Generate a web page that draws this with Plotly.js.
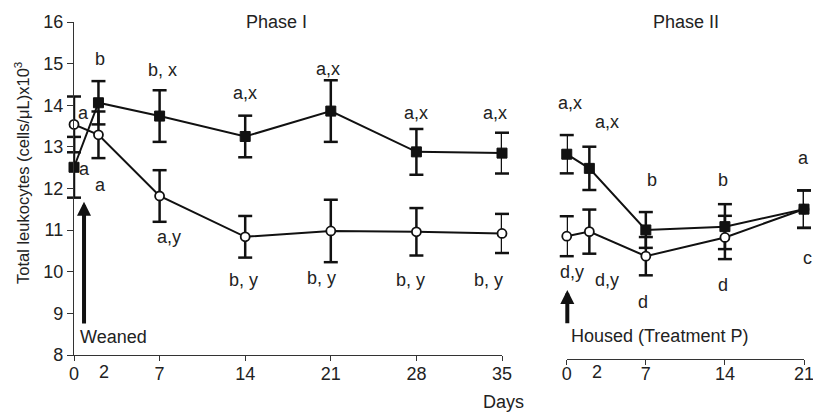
<!DOCTYPE html>
<html>
<head>
<meta charset="utf-8">
<script src="https://cdn.plot.ly/plotly-3.0.1.min.js"></script>
<style>html,body{margin:0;padding:0;background:#fff;}#chart{width:813px;height:415px;}</style>
</head>
<body>
<div id="chart"></div>
<script>
// Phase I data
const daysP1 = [0, 2, 7, 14, 21, 28, 35];
const p1Filled = [12.51, 14.06, 13.74, 13.25, 13.86, 12.88, 12.85];
const p1FilledErr = [0.73, 0.52, 0.62, 0.50, 0.74, 0.55, 0.49];
const p1Open = [13.54, 13.29, 11.82, 10.84, 10.98, 10.96, 10.92];
const p1OpenErr = [0.67, 0.56, 0.62, 0.50, 0.75, 0.57, 0.47];

// Phase II data
const daysP2 = [0, 2, 7, 14, 21];
const p2Filled = [12.92, 12.58, 11.10, 11.18, 11.60];
const p2FilledErr = [0.46, 0.52, 0.43, 0.54, 0.45];
const p2Open = [10.95, 11.06, 10.47, 10.92, 11.60];
const p2OpenErr = [0.48, 0.53, 0.46, 0.52, 0.45];

// tick labels
const yTicks = [8, 9, 10, 11, 12, 13, 14, 15, 16];
const xTicksP1 = [0, 7, 14, 21, 28, 35];
const xTicksP2 = [0, 7, 14, 21];

// significance letters
const p1Labels = ["a", "a", "a", "b", "b, x", "a,x", "a,x", "a,x", "a,x", "a,y", "b, y", "b, y", "b, y", "b, y"];
const p1LabelX = [0.74, 0.82, 2.13, 2.09, 7.26, 13.99, 20.81, 27.99, 34.45, 7.80, 13.85, 20.27, 27.5, 33.9];
const p1LabelY = [13.81, 12.47, 12.08, 15.10, 14.85, 14.30, 14.87, 13.81, 13.81, 10.84, 9.80, 9.84, 9.80, 9.80];
const p2Labels = ["a,x", "a,x", "b", "b", "a", "c", "d,y", "d,y", "d", "d"];
const p2LabelX = [0.29, 3.59, 7.57, 13.79, 20.97, 21, 0.44, 3.59, 6.77, 13.79];
const p2LabelY = [14.16, 13.70, 12.30, 12.30, 12.82, 10.43, 10.10, 9.90, 9.38, 9.78];
const p2LabelShift = [0, 0, 0, 0, 0, 3, 0, 0, 0, 0];

const FONT = "Liberation Sans, Arial, sans-serif";
const TXT = "#222";
const FS = 18;

// error bar stems (lines) and caps (unclipped line-ew markers)
function errStem(x, y, err, xa, ya) {
  const xs = [], ys = [];
  x.forEach((xi, i) => { xs.push(xi, xi, null); ys.push(y[i] - err[i], y[i] + err[i], null); });
  return {x: xs, y: ys, xaxis: xa, yaxis: ya, type: "scatter", mode: "lines", cliponaxis: false,
    line: {color: "#111", width: 2.5}, showlegend: false, hoverinfo: "skip"};
}
function errCap(x, y, err, xa, ya) {
  const xs = [], ys = [];
  x.forEach((xi, i) => { xs.push(xi, xi); ys.push(y[i] - err[i], y[i] + err[i]); });
  return {x: xs, y: ys, xaxis: xa, yaxis: ya, type: "scatter", mode: "markers", cliponaxis: false,
    marker: {symbol: "line-ew", size: 10, line: {color: "#111", width: 2.5}}, showlegend: false, hoverinfo: "skip"};
}

function series(x, y, xa, ya, filled) {
  return {
    x: x, y: y, xaxis: xa, yaxis: ya, type: "scatter", mode: "lines+markers",
    cliponaxis: false,
    line: {color: "#111", width: 2},
    marker: filled
      ? {symbol: "square", size: 10, color: "#111", line: {color: "#111", width: 1}}
      : {symbol: "circle", size: 9, color: "#fff", line: {color: "#111", width: 1.8}},
    showlegend: false, hoverinfo: "skip"
  };
}

const data = [
  errStem(daysP1, p1Open, p1OpenErr, "x", "y"),
  errStem(daysP1, p1Filled, p1FilledErr, "x", "y"),
  errStem(daysP2, p2Open, p2OpenErr, "x2", "y2"),
  errStem(daysP2, p2Filled, p2FilledErr, "x2", "y2"),
  errCap(daysP1, p1Open, p1OpenErr, "x", "y"),
  errCap(daysP1, p1Filled, p1FilledErr, "x", "y"),
  errCap(daysP2, p2Open, p2OpenErr, "x2", "y2"),
  errCap(daysP2, p2Filled, p2FilledErr, "x2", "y2"),
  series(daysP1, p1Open, "x", "y", false),
  series(daysP1, p1Filled, "x", "y", true),
  series(daysP2, p2Open, "x2", "y2", false),
  series(daysP2, p2Filled, "x2", "y2", true)
];

const ann = [];
p1Labels.forEach((t, i) => ann.push({text: t, x: p1LabelX[i], y: p1LabelY[i], xref: "x", yref: "y",
  showarrow: false, xanchor: "center", yanchor: "middle", font: {family: FONT, size: FS, color: TXT}}));
p2Labels.forEach((t, i) => ann.push({text: t, x: p2LabelX[i], y: p2LabelY[i], xref: "x2", yref: "y2",
  xshift: p2LabelShift[i], showarrow: false, xanchor: "center", yanchor: "middle", font: {family: FONT, size: FS, color: TXT}}));

// extra "2" tick labels (no tick mark in original)
ann.push({text: "2", x: 2.45, xref: "x", y: -0.04, yref: "paper", showarrow: false, yanchor: "middle", font: {family: FONT, size: FS, color: TXT}});
ann.push({text: "2", x: 2.65, xref: "x2", y: -0.04, yref: "paper", showarrow: false, yanchor: "middle", font: {family: FONT, size: FS, color: TXT}});

// phase titles, axis titles
ann.push({text: "Phase I", x: 16.6, xref: "x", y: 1.0, yref: "paper", showarrow: false, yanchor: "middle", font: {family: FONT, size: FS, color: TXT}});
ann.push({text: "Phase II", x: 10.52, xref: "x2", y: 1.0, yref: "paper", showarrow: false, yanchor: "middle", font: {family: FONT, size: FS, color: TXT}});
ann.push({text: "Days", x: 0.5877, xref: "paper", y: -0.128, yref: "paper", showarrow: false, yanchor: "middle", font: {family: FONT, size: FS, color: TXT}});
ann.push({text: "Total leukocytes (cells/μL)x10<sup>3</sup>", x: -0.0712, xref: "paper", y: 0.552, yref: "paper",
  textangle: -90, showarrow: false, xanchor: "center", yanchor: "middle", font: {family: FONT, size: 16.5, color: TXT}});

// event markers
ann.push({text: "Weaned", x: 0.33, y: 8.44, xref: "x", yref: "y", showarrow: false, xanchor: "left", yanchor: "middle", font: {family: FONT, size: FS, color: TXT}});
ann.push({text: "Housed (Treatment P)", x: 0.23, y: 8.55, xref: "x2", yref: "y2", showarrow: false, xanchor: "left", yanchor: "middle", font: {family: FONT, size: FS, color: TXT}});
ann.push({text: "", x: 0.82, y: 11.68, xref: "x", yref: "y", ax: 0.82, ay: 8.72, axref: "x", ayref: "y",
  showarrow: true, arrowhead: 2, arrowsize: 0.7, arrowwidth: 4, arrowcolor: "#111", standoff: 0});
ann.push({text: "", x: 0.05, y: 9.66, xref: "x2", yref: "y2", ax: 0.05, ay: 8.82, axref: "x2", ayref: "y2",
  showarrow: true, arrowhead: 2, arrowsize: 0.7, arrowwidth: 4, arrowcolor: "#111", standoff: 0});

const axFont = {family: FONT, size: FS, color: TXT};
const layout = {
  width: 813, height: 415,
  margin: {l: 74, r: 9, t: 22, b: 56},
  paper_bgcolor: "#fff", plot_bgcolor: "#fff",
  showlegend: false,
  xaxis: {domain: [0, 0.5863], range: [0, 35], anchor: "y", tickvals: xTicksP1, ticktext: xTicksP1.map(String),
    ticks: "outside", ticklen: 5, tickcolor: "#333", showline: true, linecolor: "#333", linewidth: 1.2,
    showgrid: false, zeroline: false, tickfont: axFont, ticklabelstandoff: -3, ticklabeloverflow: "allow"},
  yaxis: {domain: [4 / 337, 1], range: [8, 16], anchor: "x", tickvals: yTicks, ticktext: yTicks.map(String),
    ticks: "outside", ticklen: 6, tickcolor: "#333", showline: true, linecolor: "#333", linewidth: 1.2,
    showgrid: false, zeroline: false, tickfont: axFont},
  xaxis2: {domain: [0.675, 1], range: [0, 21], anchor: "y2", tickvals: xTicksP2, ticktext: xTicksP2.map(String),
    ticks: "outside", ticklen: 5, tickcolor: "#333", showline: true, linecolor: "#333", linewidth: 1.2,
    showgrid: false, zeroline: false, tickfont: axFont, ticklabelstandoff: -7, ticklabeloverflow: "allow"},
  yaxis2: {domain: [0, 1 - 4 / 337], range: [8, 16], anchor: "x2", showline: false, showticklabels: false,
    ticks: "", showgrid: false, zeroline: false},
  annotations: ann
};

Plotly.newPlot("chart", data, layout, {staticPlot: true, displayModeBar: false});
</script>
</body>
</html>
